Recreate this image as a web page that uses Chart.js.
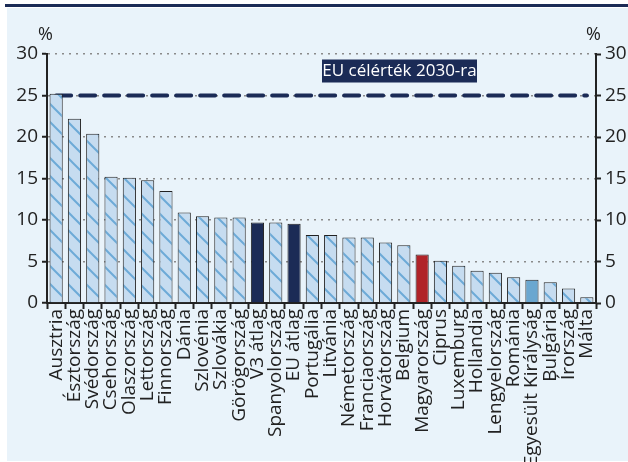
<!DOCTYPE html>
<html>
<head>
<meta charset="utf-8">
<script src="https://cdn.jsdelivr.net/npm/chart.js@4"></script>
<style>
  body { margin: 0; background: #fff; }
</style>
</head>
<body>
<canvas id="myChart" width="628" height="462"></canvas>
<script>
'use strict'

// data
const countries = ['Ausztria', 'Észtország', 'Svédország', 'Csehország', 'Olaszország', 'Lettország',
  'Finnország', 'Dánia', 'Szlovénia', 'Szlovákia', 'Görögország', 'V3 átlag', 'Spanyolország',
  'EU átlag', 'Portugália', 'Litvánia', 'Németország', 'Franciaország', 'Horvátország', 'Belgium',
  'Magyarország', 'Ciprus', 'Luxemburg', 'Hollandia', 'Lengyelország', 'Románia',
  'Egyesült Királyság', 'Bulgária', 'Írország', 'Málta'];
const shares = [25.2, 22.2, 20.4, 15.2, 15.1, 14.8, 13.5, 10.9, 10.45, 10.3, 10.3, 9.7, 9.7,
  9.55, 8.2, 8.2, 7.9, 7.9, 7.3, 6.95, 5.85, 5.1, 4.5, 3.9, 3.65, 3.1, 2.8, 2.5, 1.75, 0.7];
const target = 25;           // EU célérték 2030-ra
const yTicks = [0, 5, 10, 15, 20, 25, 30];

// colours
const bgColor = '#E9F3FA';
const navy = '#1B2B56';
const red = '#B02328';
const midBlue = '#6AA7D0';
const textColor = '#222';

// striped fill for the normal bars
function makeStripes() {
  const size = 18;
  const c = document.createElement('canvas');
  c.width = size; c.height = size;
  const g = c.getContext('2d');
  g.fillStyle = '#C6DCF0';
  g.fillRect(0, 0, size, size);
  g.strokeStyle = '#6DAAD7';
  g.lineWidth = 2;
  g.beginPath();
  g.moveTo(-2, -2); g.lineTo(size + 2, size + 2);
  g.moveTo(-2, size - 2); g.lineTo(2, size + 2);
  g.moveTo(size - 2, -2); g.lineTo(size + 2, 2);
  g.stroke();
  return g.createPattern(c, 'repeat');
}
const stripes = makeStripes();

const barColors = countries.map(function (name) {
  if (name === 'V3 átlag' || name === 'EU átlag') return navy;
  if (name === 'Magyarország') return red;
  if (name === 'Egyesült Királyság') return midBlue;
  return stripes;
});

// background, top rule, % signs and the target box
const decor = {
  id: 'decor',
  beforeDraw(chart) {
    const c = chart.ctx;
    c.save();
    c.fillStyle = bgColor;
    c.fillRect(7, 8, 621, 453);
    c.fillStyle = navy;
    c.fillRect(5, 4, 623, 3);
    c.restore();
  },
  afterDraw(chart) {
    const c = chart.ctx;
    const y = chart.scales.y;
    c.save();
    c.fillStyle = textColor;
    c.font = '18px "Open Sans"';
    c.textBaseline = 'bottom';
    c.textAlign = 'left';
    c.fillText('%', 38, 44);
    c.fillText('%', 586, 44);

    const yt = y.getPixelForValue(target);
    c.fillStyle = navy;
    c.fillRect(322, yt - 36, 155, 23);
    c.fillStyle = '#fff';
    c.font = '17px "Open Sans"';
    c.textAlign = 'center';
    c.textBaseline = 'middle';
    c.fillText('EU célérték 2030-ra', 399.5, yt - 24);
    c.restore();
  }
};

const tickFont = { family: 'Open Sans', size: 19 };

const ctx = document.getElementById('myChart').getContext('2d');
const myChart = new Chart(ctx, {
  data: {
    labels: countries,
    datasets: [{
      type: 'bar',
      data: shares,
      backgroundColor: barColors,
      borderColor: '#222',
      borderWidth: 1,
      barPercentage: 0.72,
      categoryPercentage: 1,
      order: 0
    }, {
      type: 'line',
      data: countries.map(() => target),
      borderColor: navy,
      borderWidth: 4,
      borderDash: [15, 9],
      borderCapStyle: 'round',
      pointRadius: 0,
      order: 1
    }]
  },
  plugins: [decor],
  options: {
    responsive: false,
    animation: false,
    layout: { padding: { top: 54, left: 7, right: 0, bottom: 0 } },
    plugins: { legend: { display: false }, tooltip: { enabled: false } },
    scales: {
      x: {
        offset: true,
        grid: { offset: true, drawOnChartArea: false, drawTicks: true, tickLength: 6, tickColor: '#222', tickWidth: 2 },
        border: { color: '#222', width: 2 },
        ticks: {
          autoSkip: false, minRotation: 90, maxRotation: 90, padding: 0,
          color: textColor, font: { family: 'Open Sans', size: 19 }
        },
        afterFit(scale) { scale.height = 159; }
      },
      y: {
        position: 'left',
        min: 0, max: 30,
        afterBuildTicks(scale) { scale.ticks = yTicks.map(v => ({ value: v })); },
        grid: {
          color: '#8a8a8a', lineWidth: 1.5, tickColor: '#222', tickWidth: 2, tickLength: 5,
          drawTicks: true
        },
        border: { color: '#222', width: 2, dash: [2, 5] },
        ticks: { color: textColor, font: tickFont, padding: 4 },
        afterFit(scale) { scale.width = 40; }
      },
      y2: {
        position: 'right',
        min: 0, max: 30,
        afterBuildTicks(scale) { scale.ticks = yTicks.map(v => ({ value: v })); },
        grid: { drawOnChartArea: false, tickColor: '#222', tickWidth: 2, tickLength: 5 },
        border: { color: '#222', width: 2 },
        ticks: { color: textColor, font: tickFont, padding: 4 },
        afterFit(scale) { scale.width = 32; }
      }
    }
  }
});
</script>
</body>
</html>
